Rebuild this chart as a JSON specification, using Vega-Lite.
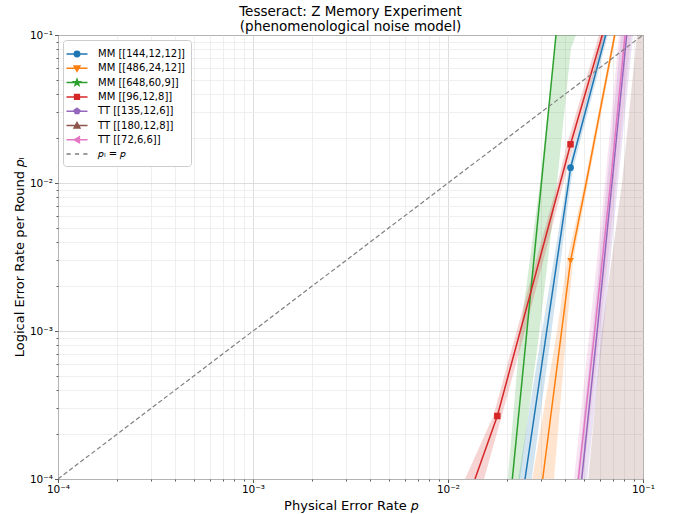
{
  "$schema": "https://vega.github.io/schema/vega-lite/v6.json",
  "width": 585,
  "height": 444,
  "autosize": "none",
  "padding": {"left": 58, "top": 35, "right": 35, "bottom": 35},
  "background": "#ffffff",
  "title": {
    "text": ["Tesseract: Z Memory Experiment", "(phenomenological noise model)"],
    "font": "DejaVu Sans",
    "fontSize": 13.5,
    "fontWeight": "normal",
    "color": "#000000",
    "lineHeight": 15,
    "offset": -3
  },
  "datasets": {
    "curves": [
      {"series": "MM [[144,12,12]]", "y": 0.0001, "x": 0.02483, "lo": 0.02293, "hi": 0.02687},
      {"series": "MM [[144,12,12]]", "y": 0.001, "x": 0.03208, "lo": 0.03034, "hi": 0.03395},
      {"series": "MM [[144,12,12]]", "y": 0.01, "x": 0.04148, "lo": 0.04052, "hi": 0.04263},
      {"series": "MM [[144,12,12]]", "y": 0.01269, "x": 0.0425, "lo": 0.04139, "hi": 0.04391},
      {"series": "MM [[144,12,12]]", "y": 0.1, "x": 0.06437, "lo": 0.06235, "hi": 0.06614},
      {"series": "MM [[486,24,12]]", "y": 0.0001, "x": 0.03059, "lo": 0.02706, "hi": 0.03496},
      {"series": "MM [[486,24,12]]", "y": 0.001, "x": 0.03825, "lo": 0.03622, "hi": 0.04052},
      {"series": "MM [[486,24,12]]", "y": 0.002972, "x": 0.0425, "lo": 0.04076, "hi": 0.04375},
      {"series": "MM [[486,24,12]]", "y": 0.01, "x": 0.05112, "lo": 0.05012, "hi": 0.05222},
      {"series": "MM [[486,24,12]]", "y": 0.1, "x": 0.0716, "lo": 0.07058, "hi": 0.0727},
      {"series": "MM [[648,60,9]]", "y": 0.0001, "x": 0.02137, "lo": 0.02025, "hi": 0.02339},
      {"series": "MM [[648,60,9]]", "y": 0.001, "x": 0.02539, "lo": 0.02353, "hi": 0.02945},
      {"series": "MM [[648,60,9]]", "y": 0.01, "x": 0.03013, "lo": 0.02963, "hi": 0.03622},
      {"series": "MM [[648,60,9]]", "y": 0.0817, "x": 0.03525, "lo": 0.03525, "hi": 0.04273},
      {"series": "MM [[648,60,9]]", "y": 0.1, "x": 0.03579, "lo": 0.03579, "hi": 0.04533},
      {"series": "MM [[96,12,8]]", "y": 0.0001, "x": 0.01375, "lo": 0.01222, "hi": 0.0153},
      {"series": "MM [[96,12,8]]", "y": 0.0002666, "x": 0.0179, "lo": 0.01707, "hi": 0.01886},
      {"series": "MM [[96,12,8]]", "y": 0.001, "x": 0.02348, "lo": 0.0225, "hi": 0.02483},
      {"series": "MM [[96,12,8]]", "y": 0.01, "x": 0.03762, "lo": 0.03643, "hi": 0.03911},
      {"series": "MM [[96,12,8]]", "y": 0.01826, "x": 0.0425, "lo": 0.04076, "hi": 0.04428},
      {"series": "MM [[96,12,8]]", "y": 0.1, "x": 0.06183, "lo": 0.05948, "hi": 0.06384},
      {"series": "TT [[135,12,6]]", "y": 0.0001, "x": 0.04848, "lo": 0.04587, "hi": 0.05162},
      {"series": "TT [[135,12,6]]", "y": 0.001, "x": 0.05822, "lo": 0.05522, "hi": 0.06256},
      {"series": "TT [[135,12,6]]", "y": 0.01, "x": 0.06934, "lo": 0.06537, "hi": 0.07444},
      {"series": "TT [[135,12,6]]", "y": 0.1, "x": 0.0825, "lo": 0.07714, "hi": 0.08887},
      {"series": "TT [[180,12,8]]", "y": 0.0001, "x": null, "lo": 0.05242, "hi": 0.1},
      {"series": "TT [[180,12,8]]", "y": 0.001, "x": null, "lo": 0.06161, "hi": 0.1},
      {"series": "TT [[180,12,8]]", "y": 0.01, "x": null, "lo": 0.07805, "hi": 0.1},
      {"series": "TT [[180,12,8]]", "y": 0.1, "x": null, "lo": 0.09316, "hi": 0.1},
      {"series": "TT [[72,6,6]]", "y": 0.0001, "x": 0.04659, "lo": 0.04428, "hi": 0.04924},
      {"series": "TT [[72,6,6]]", "y": 0.001, "x": 0.05653, "lo": 0.05316, "hi": 0.06018},
      {"series": "TT [[72,6,6]]", "y": 0.01, "x": 0.06813, "lo": 0.06384, "hi": 0.0727},
      {"series": "TT [[72,6,6]]", "y": 0.1, "x": 0.08086, "lo": 0.07532, "hi": 0.0868}
    ],
    "markers": [
      {"series": "MM [[144,12,12]]", "x": 0.0425, "y": 0.01269},
      {"series": "MM [[486,24,12]]", "x": 0.0425, "y": 0.002972},
      {"series": "MM [[96,12,8]]", "x": 0.0179, "y": 0.0002666},
      {"series": "MM [[96,12,8]]", "x": 0.0425, "y": 0.01826}
    ],
    "ref": [
      {"x": 0.0001, "y": 0.0001},
      {"x": 0.1, "y": 0.1}
    ],
    "legendRows": [
      {"series": "MM [[144,12,12]]"},
      {"series": "MM [[486,24,12]]"},
      {"series": "MM [[648,60,9]]"},
      {"series": "MM [[96,12,8]]"},
      {"series": "TT [[135,12,6]]"},
      {"series": "TT [[180,12,8]]"},
      {"series": "TT [[72,6,6]]"},
      {"series": "𝑝ₗ = 𝑝"}
    ]
  },
  "layer": [
    {
      "data": {"name": "curves"},
      "mark": {"type": "area", "orient": "horizontal", "opacity": 0.2, "clip": true},
      "encoding": {
        "y": {
          "field": "y", "type": "quantitative",
          "scale": {"type": "log", "domain": [0.0001, 0.1], "nice": false},
          "axis": {
            "title": "Logical Error Rate per Round 𝑝ₗ",
            "values": [0.0001,0.0002,0.0003,0.0004,0.0005,0.0006,0.0007,0.0008,0.0009,0.001,0.002,0.003,0.004,0.005,0.006,0.007,0.008,0.009,0.01,0.02,0.03,0.04,0.05,0.06,0.07,0.08,0.09,0.1],
            "labelExpr": "datum.value == 0.0001 ? '10⁻⁴' : datum.value == 0.001 ? '10⁻³' : datum.value == 0.01 ? '10⁻²' : datum.value == 0.1 ? '10⁻¹' : ''",
            "tickSize": {"condition": {"test": "indexof([0.0001,0.001,0.01,0.1], datum.value) >= 0", "value": 3.5}, "value": 2},
            "gridColor": {"condition": {"test": "indexof([0.0001,0.001,0.01,0.1], datum.value) >= 0", "value": "#d4d4d4"}, "value": "#ebebeb"},
            "labelFlush": false,
            "labelOverlap": false,
            "titlePadding": 3
          }
        },
        "x": {
          "field": "lo", "type": "quantitative", "stack": null,
          "scale": {"type": "log", "domain": [0.0001, 0.1], "nice": false},
          "axis": {
            "title": "Physical Error Rate 𝑝",
            "values": [0.0001,0.0002,0.0003,0.0004,0.0005,0.0006,0.0007,0.0008,0.0009,0.001,0.002,0.003,0.004,0.005,0.006,0.007,0.008,0.009,0.01,0.02,0.03,0.04,0.05,0.06,0.07,0.08,0.09,0.1],
            "labelExpr": "datum.value == 0.0001 ? '10⁻⁴' : datum.value == 0.001 ? '10⁻³' : datum.value == 0.01 ? '10⁻²' : datum.value == 0.1 ? '10⁻¹' : ''",
            "tickSize": {"condition": {"test": "indexof([0.0001,0.001,0.01,0.1], datum.value) >= 0", "value": 3.5}, "value": 2},
            "gridColor": {"condition": {"test": "indexof([0.0001,0.001,0.01,0.1], datum.value) >= 0", "value": "#d4d4d4"}, "value": "#ebebeb"},
            "labelFlush": false,
            "labelOverlap": false,
            "titlePadding": 4
          }
        },
        "x2": {"field": "hi"},
        "color": {"field": "series", "type": "nominal", "legend": null,
          "scale": {"domain": ["MM [[144,12,12]]","MM [[486,24,12]]","MM [[648,60,9]]","MM [[96,12,8]]","TT [[135,12,6]]","TT [[180,12,8]]","TT [[72,6,6]]"],
                    "range": ["#1f77b4","#ff7f0e","#2ca02c","#d62728","#9467bd","#8c564b","#e377c2"]}}
      }
    },
    {
      "data": {"name": "curves"},
      "transform": [{"filter": "isValid(datum.x)"}],
      "mark": {"type": "line", "strokeWidth": 1.5, "clip": true},
      "encoding": {
        "x": {"field": "x", "type": "quantitative", "scale": {"type": "log", "domain": [0.0001, 0.1], "nice": false}},
        "y": {"field": "y", "type": "quantitative", "scale": {"type": "log", "domain": [0.0001, 0.1], "nice": false}},
        "order": {"field": "y", "type": "quantitative"},
        "color": {"field": "series", "type": "nominal", "legend": null}
      }
    },
    {
      "data": {"name": "markers"},
      "transform": [{"filter": "datum.series == 'MM [[144,12,12]]'"}],
      "mark": {"type": "point", "shape": "circle", "filled": true, "opacity": 1, "size": 45, "clip": true},
      "encoding": {
        "x": {"field": "x", "type": "quantitative", "scale": {"type": "log", "domain": [0.0001, 0.1], "nice": false}},
        "y": {"field": "y", "type": "quantitative", "scale": {"type": "log", "domain": [0.0001, 0.1], "nice": false}},
        "color": {"field": "series", "type": "nominal", "legend": null}
      }
    },
    {
      "data": {"name": "markers"},
      "transform": [{"filter": "datum.series == 'MM [[486,24,12]]'"}],
      "mark": {"type": "point", "shape": "triangle-down", "filled": true, "opacity": 1, "size": 45, "clip": true},
      "encoding": {
        "x": {"field": "x", "type": "quantitative", "scale": {"type": "log", "domain": [0.0001, 0.1], "nice": false}},
        "y": {"field": "y", "type": "quantitative", "scale": {"type": "log", "domain": [0.0001, 0.1], "nice": false}},
        "color": {"field": "series", "type": "nominal", "legend": null}
      }
    },
    {
      "data": {"name": "markers"},
      "transform": [{"filter": "datum.series == 'MM [[96,12,8]]'"}],
      "mark": {"type": "point", "shape": "square", "filled": true, "opacity": 1, "size": 42, "clip": true},
      "encoding": {
        "x": {"field": "x", "type": "quantitative", "scale": {"type": "log", "domain": [0.0001, 0.1], "nice": false}},
        "y": {"field": "y", "type": "quantitative", "scale": {"type": "log", "domain": [0.0001, 0.1], "nice": false}},
        "color": {"field": "series", "type": "nominal", "legend": null}
      }
    },
    {
      "data": {"name": "ref"},
      "mark": {"type": "line", "color": "#7f7f7f", "strokeWidth": 1.2, "strokeDash": [4.5, 2.5], "clip": true},
      "encoding": {
        "x": {"field": "x", "type": "quantitative", "scale": {"type": "log", "domain": [0.0001, 0.1], "nice": false}},
        "y": {"field": "y", "type": "quantitative", "scale": {"type": "log", "domain": [0.0001, 0.1], "nice": false}}
      }
    },
    {
      "data": {"name": "legendRows"},
      "mark": {"type": "point", "filled": true, "opacity": 0},
      "encoding": {
        "fill": {"field": "series", "type": "nominal",
          "scale": {"domain": ["MM [[144,12,12]]","MM [[486,24,12]]","MM [[648,60,9]]","MM [[96,12,8]]","TT [[135,12,6]]","TT [[180,12,8]]","TT [[72,6,6]]","𝑝ₗ = 𝑝"],
                    "range": ["#1f77b4","#ff7f0e","#2ca02c","#d62728","#9467bd","#8c564b","#e377c2","#7f7f7f"]},
          "legend": {
            "title": null,
            "encode": {
              "symbols": {
                "update": {
                  "fill": {"scale": "fill", "field": "value"},
                  "stroke": {"scale": "fill", "field": "value"},
                  "opacity": {"value": 1},
                  "strokeWidth": {"value": 1.5}
                }
              }
            }
          }},
        "shape": {"field": "series", "type": "nominal",
          "scale": {"domain": ["MM [[144,12,12]]","MM [[486,24,12]]","MM [[648,60,9]]","MM [[96,12,8]]","TT [[135,12,6]]","TT [[180,12,8]]","TT [[72,6,6]]","𝑝ₗ = 𝑝"],
                    "range": [
                      "M-1.5,0H1.5M-0.39,0A0.39,0.39 0 1,0 0.39,0A0.39,0.39 0 1,0 -0.39,0Z",
                      "M-1.5,0H1.5M-0.42,-0.34H0.42L0,0.42Z",
                      "M-1.5,0H1.5M0,-0.462L0.111,-0.153L0.44,-0.143L0.179,0.059L0.272,0.374L0,0.189L-0.272,0.374L-0.179,0.059L-0.44,-0.143L-0.111,-0.153Z",
                      "M-1.5,0H1.5M-0.34,-0.34H0.34V0.34H-0.34Z",
                      "M-1.5,0H1.5M0,-0.42L0.4,-0.13L0.246,0.34L-0.246,0.34L-0.4,-0.13Z",
                      "M-1.5,0H1.5M0,-0.42L0.42,0.34H-0.42Z",
                      "M-1.5,0H1.5M-0.42,0L0.34,-0.42V0.42Z",
                      "M-1.5,0H-0.9M-0.3,0H0.3M0.9,0H1.5"
                    ]},
          "legend": {"title": null}}
      }
    }
  ],
  "config": {
    "font": "DejaVu Sans",
    "view": {"stroke": "#333333", "strokeWidth": 1},
    "axis": {
      "domain": false,
      "grid": true,
      "gridWidth": 0.8,
      "labelFont": "DejaVu Sans",
      "labelFontSize": 10.5,
      "labelColor": "#000000",
      "labelPadding": 2,
      "tickColor": "#333333",
      "tickWidth": 0.8,
      "titleFont": "DejaVu Sans",
      "titleFontSize": 13,
      "titleFontWeight": "normal",
      "titleColor": "#000000"
    },
    "legend": {
      "orient": "top-left",
      "offset": 5,
      "padding": 6,
      "fillColor": "#ffffff",
      "strokeColor": "#cccccc",
      "cornerRadius": 3,
      "labelFont": "DejaVu Sans",
      "labelFontSize": 10,
      "labelColor": "#000000",
      "labelLimit": 300,
      "labelOffset": 13,
      "symbolSize": 196,
      "symbolStrokeWidth": 1.5,
      "symbolOpacity": 1,
      "rowPadding": 0.3
    }
  }
}
